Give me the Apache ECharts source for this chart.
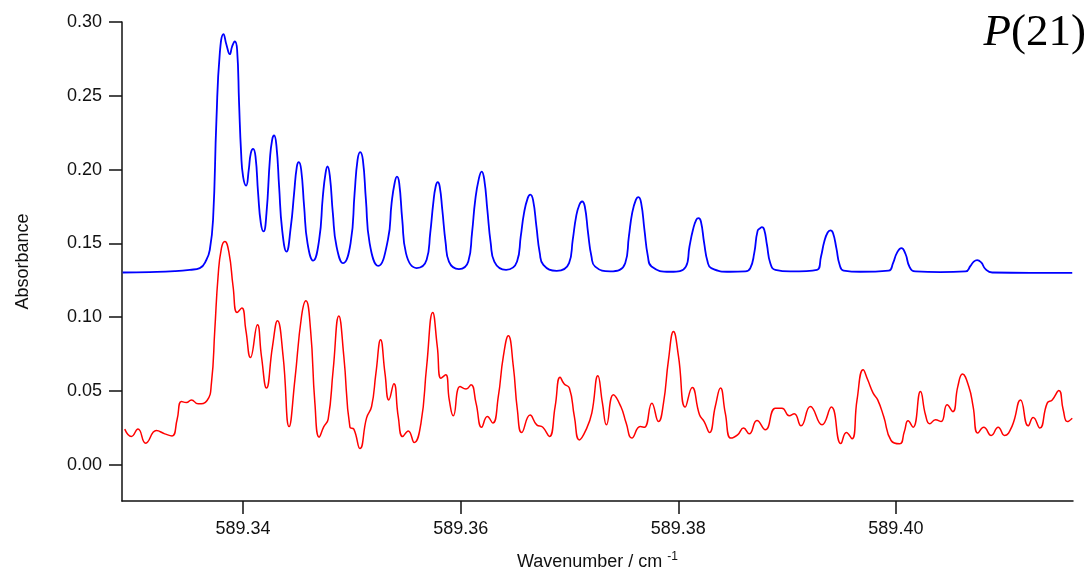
<!DOCTYPE html>
<html><head><meta charset="utf-8">
<script src="https://cdn.jsdelivr.net/npm/echarts@6/dist/echarts.min.js"></script>
<style>html,body{margin:0;padding:0;background:#fff}#c{width:1089px;height:570px}</style>
</head><body><div id="c"></div>
<script>
const xTicks = [589.34, 589.36, 589.38, 589.40];
const yTicks = [0, 0.05, 0.10, 0.15, 0.20, 0.25, 0.30];
const xTitle = 'Wavenumber / cm {sup|-1}';
const yTitle = 'Absorbance';
const label = 'P(21)';

const blueX = [
589.32893, 589.33142, 589.33372, 589.33510, 589.33602, 589.33663, 589.33694, 589.33724, 589.33755, 589.33786,
589.33820, 589.33847, 589.33878, 589.33899, 589.33924, 589.33945, 589.33963, 589.33982, 589.34000, 589.34028,
589.34052, 589.34071, 589.34092, 589.34114, 589.34138, 589.34163, 589.34188, 589.34215, 589.34246, 589.34267,
589.34285, 589.34307, 589.34331, 589.34359, 589.34399, 589.34439, 589.34469, 589.34494, 589.34512, 589.34534,
589.34561, 589.34592, 589.34644, 589.34699, 589.34733, 589.34758, 589.34776, 589.34798, 589.34825, 589.34859,
589.34920, 589.34988, 589.35025, 589.35052, 589.35076, 589.35101, 589.35129, 589.35163, 589.35242, 589.35331,
589.35365, 589.35393, 589.35414, 589.35435, 589.35463, 589.35497, 589.35595, 589.35687, 589.35720, 589.35748,
589.35770, 589.35789, 589.35807, 589.35831, 589.35862, 589.35892, 589.35984, 589.36070, 589.36104, 589.36134,
589.36168, 589.36193, 589.36217, 589.36245, 589.36276, 589.36309, 589.36417, 589.36518, 589.36552, 589.36582,
589.36616, 589.36640, 589.36665, 589.36696, 589.36727, 589.36760, 589.36883, 589.36996, 589.37030, 589.37061,
589.37091, 589.37116, 589.37141, 589.37171, 589.37202, 589.37236, 589.37374, 589.37512, 589.37546, 589.37576,
589.37610, 589.37634, 589.37659, 589.37689, 589.37721, 589.37754, 589.37926, 589.38070, 589.38103, 589.38135,
589.38165, 589.38186, 589.38208, 589.38238, 589.38269, 589.38303, 589.38478, 589.38616, 589.38662, 589.38698,
589.38729, 589.38754, 589.38769, 589.38790, 589.38815, 589.38846, 589.38892, 589.39030, 589.39275, 589.39312,
589.39342, 589.39373, 589.39398, 589.39422, 589.39453, 589.39483, 589.39520, 589.39674, 589.39934, 589.39974,
589.40011, 589.40051, 589.40088, 589.40127, 589.40180, 589.40410, 589.40640, 589.40686, 589.40716, 589.40747,
589.40784, 589.40824, 589.40885, 589.41238, 589.41621
];
const blueY = [
0.1303, 0.1306, 0.1312, 0.1321, 0.1333, 0.1389, 0.1457, 0.1660, 0.2337, 0.2789,
0.2918, 0.2846, 0.2782, 0.2834, 0.2868, 0.2812, 0.2451, 0.2112, 0.1953, 0.1892,
0.1999, 0.2112, 0.2141, 0.2089, 0.1841, 0.1638, 0.1581, 0.1705, 0.2066, 0.2202,
0.2231, 0.2157, 0.1886, 0.1592, 0.1445, 0.1615, 0.1841, 0.2021, 0.2051, 0.1999,
0.1750, 0.1502, 0.1384, 0.1524, 0.1818, 0.1976, 0.2021, 0.1953, 0.1705, 0.1479,
0.1366, 0.1502, 0.1841, 0.2066, 0.2119, 0.2066, 0.1795, 0.1502, 0.1348, 0.1524,
0.1773, 0.1909, 0.1953, 0.1909, 0.1660, 0.1434, 0.1333, 0.1389, 0.1570, 0.1773,
0.1886, 0.1915, 0.1886, 0.1728, 0.1502, 0.1377, 0.1326, 0.1377, 0.1570, 0.1795,
0.1942, 0.1987, 0.1931, 0.1728, 0.1502, 0.1377, 0.1321, 0.1377, 0.1547, 0.1705,
0.1807, 0.1831, 0.1795, 0.1615, 0.1434, 0.1355, 0.1314, 0.1366, 0.1524, 0.1682,
0.1762, 0.1784, 0.1750, 0.1570, 0.1411, 0.1343, 0.1310, 0.1366, 0.1547, 0.1705,
0.1795, 0.1814, 0.1773, 0.1592, 0.1411, 0.1343, 0.1308, 0.1343, 0.1479, 0.1592,
0.1660, 0.1671, 0.1648, 0.1502, 0.1377, 0.1333, 0.1308, 0.1310, 0.1333, 0.1434,
0.1585, 0.1604, 0.1610, 0.1592, 0.1491, 0.1366, 0.1321, 0.1310, 0.1321, 0.1412,
0.1513, 0.1574, 0.1588, 0.1570, 0.1468, 0.1355, 0.1316, 0.1308, 0.1316, 0.1367,
0.1438, 0.1468, 0.1430, 0.1339, 0.1310, 0.1305, 0.1310, 0.1348, 0.1377, 0.1387,
0.1371, 0.1326, 0.1303, 0.1301, 0.1301
];

const redX = [
589.32912, 589.32973, 589.33034, 589.33105, 589.33203, 589.33280, 589.33347, 589.33393, 589.33433, 589.33479,
589.33525, 589.33586, 589.33669, 589.33709, 589.33740, 589.33770, 589.33801, 589.33832, 589.33871, 589.33908,
589.33945, 589.33988, 589.34025, 589.34068, 589.34132, 589.34169, 589.34215, 589.34270, 589.34316, 589.34368,
589.34423, 589.34476, 589.34537, 589.34577, 589.34620, 589.34660, 589.34699, 589.34742, 589.34782, 589.34828,
589.34880, 589.34926, 589.34982, 589.35018, 589.35074, 589.35135, 589.35181, 589.35221, 589.35264, 589.35304,
589.35340, 589.35386, 589.35426, 589.35467, 589.35518, 589.35573, 589.35635, 589.35687, 589.35743, 589.35785,
589.35819, 589.35862, 589.35895, 589.35932, 589.35994, 589.36049, 589.36095, 589.36141, 589.36193, 589.36245,
589.36295, 589.36346, 589.36392, 589.36438, 589.36484, 589.36521, 589.36561, 589.36638, 589.36699, 589.36755,
589.36815, 589.36868, 589.36914, 589.36950, 589.36999, 589.37045, 589.37091, 589.37159, 589.37205, 589.37261,
589.37303, 589.37340, 589.37404, 589.37472, 589.37521, 589.37573, 589.37650, 589.37689, 589.37757, 589.37818,
589.37864, 589.37910, 589.37956, 589.38002, 589.38064, 589.38128, 589.38195, 589.38238, 589.38287, 589.38340,
589.38388, 589.38432, 589.38484, 589.38545, 589.38600, 589.38652, 589.38723, 589.38800, 589.38892, 589.38953,
589.39020, 589.39066, 589.39128, 589.39214, 589.39321, 589.39407, 589.39494, 589.39545, 589.39597, 589.39643,
589.39699, 589.39741, 589.39791, 589.39833, 589.39888, 589.39956, 589.40035, 589.40078, 589.40112, 589.40158,
589.40226, 589.40272, 589.40311, 589.40364, 589.40416, 589.40471, 589.40523, 589.40569, 589.40612, 589.40670,
589.40710, 589.40753, 589.40808, 589.40876, 589.40940, 589.40998, 589.41069, 589.41146, 589.41216, 589.41262,
589.41323, 589.41391, 589.41437, 589.41498, 589.41538, 589.41575, 589.41621
];
const redY = [
0.0242, 0.0192, 0.0242, 0.0147, 0.0232, 0.0210, 0.0196, 0.0305, 0.0429, 0.0422,
0.0440, 0.0413, 0.0436, 0.0554, 0.0915, 0.1276, 0.1468, 0.1513, 0.1434, 0.1208,
0.1032, 0.1062, 0.0915, 0.0727, 0.0949, 0.0734, 0.0520, 0.0801, 0.0976, 0.0734,
0.0259, 0.0576, 0.1005, 0.1111, 0.0915, 0.0418, 0.0188, 0.0259, 0.0310, 0.0644,
0.1009, 0.0734, 0.0255, 0.0242, 0.0110, 0.0318, 0.0395, 0.0621, 0.0847, 0.0621,
0.0440, 0.0549, 0.0327, 0.0192, 0.0230, 0.0151, 0.0283, 0.0666, 0.1032, 0.0801,
0.0587, 0.0610, 0.0440, 0.0332, 0.0530, 0.0513, 0.0542, 0.0418, 0.0255, 0.0327,
0.0283, 0.0463, 0.0734, 0.0874, 0.0666, 0.0373, 0.0219, 0.0337, 0.0271, 0.0255,
0.0192, 0.0395, 0.0594, 0.0549, 0.0520, 0.0327, 0.0169, 0.0249, 0.0350, 0.0603,
0.0418, 0.0271, 0.0474, 0.0395, 0.0283, 0.0181, 0.0259, 0.0255, 0.0418, 0.0293,
0.0418, 0.0711, 0.0903, 0.0734, 0.0391, 0.0524, 0.0339, 0.0293, 0.0219, 0.0395,
0.0520, 0.0350, 0.0181, 0.0203, 0.0249, 0.0210, 0.0300, 0.0237, 0.0384, 0.0384,
0.0332, 0.0346, 0.0264, 0.0395, 0.0271, 0.0391, 0.0144, 0.0219, 0.0176, 0.0440,
0.0644, 0.0576, 0.0486, 0.0440, 0.0327, 0.0165, 0.0142, 0.0226, 0.0298, 0.0255,
0.0497, 0.0339, 0.0278, 0.0305, 0.0293, 0.0407, 0.0361, 0.0530, 0.0615, 0.0530,
0.0395, 0.0215, 0.0255, 0.0199, 0.0255, 0.0199, 0.0264, 0.0440, 0.0264, 0.0320,
0.0249, 0.0418, 0.0440, 0.0503, 0.0373, 0.0293, 0.0316
];

const zip = (xs, ys) => xs.map((x, i) => [x, ys[i]]);
const axisColor = '#111';
const font = "'Liberation Sans', Arial, Helvetica, sans-serif";
const serif = "'Liberation Serif', 'Times New Roman', serif";

const chart = echarts.init(document.getElementById('c'), null, { renderer: 'canvas' });
chart.setOption({
  animation: false,
  backgroundColor: '#fff',
  grid: { left: 122, right: 16, top: 22, bottom: 69, containLabel: false, outerBoundsMode: 'none' },
  xAxis: {
    type: 'value', min: 589.32887, max: 589.41628,
    axisLine: { onZero: false, lineStyle: { color: axisColor, width: 1.5 } },
    axisTick: { show: true, length: 13, customValues: xTicks, lineStyle: { color: axisColor, width: 1.5 } },
    axisLabel: { customValues: xTicks, formatter: v => v.toFixed(2), fontSize: 18, color: axisColor, margin: 19, fontFamily: font },
    splitLine: { show: false },
    name: xTitle, nameLocation: 'middle', nameGap: 50,
    nameTextStyle: { fontSize: 18, color: axisColor, fontFamily: font, lineHeight: 22,
      rich: { sup: { fontSize: 12, fontFamily: font, color: axisColor, verticalAlign: 'top', lineHeight: 22 } } }
  },
  yAxis: {
    type: 'value', min: -0.0245, max: 0.30,
    axisLine: { onZero: false, lineStyle: { color: axisColor, width: 1.5 } },
    axisTick: { show: true, length: 13, customValues: yTicks, lineStyle: { color: axisColor, width: 1.5 } },
    axisLabel: { customValues: yTicks, formatter: v => v.toFixed(2), fontSize: 18, color: axisColor, margin: 20, fontFamily: font },
    splitLine: { show: false },
    name: yTitle, nameLocation: 'middle', nameGap: 90,
    nameTextStyle: { fontSize: 18, color: axisColor, fontFamily: font }
  },
  graphic: [{
    type: 'text', right: 3, top: 11,
    style: {
      text: '{i|P}{n|(21)}',
      rich: {
        i: { fontStyle: 'italic', fontFamily: serif, fontSize: 45, fill: '#000' },
        n: { fontFamily: serif, fontSize: 45, fill: '#000' }
      }
    }
  }],
  series: [
    { type: 'line', data: zip(blueX, blueY), showSymbol: false, smooth: 0.5,
      lineStyle: { color: '#0000ff', width: 1.8 }, itemStyle: { color: '#0000ff' }, clip: true },
    { type: 'line', data: zip(redX, redY), showSymbol: false, smooth: 0.5,
      lineStyle: { color: '#ff0000', width: 1.5 }, itemStyle: { color: '#ff0000' }, clip: true }
  ]
});
</script>
</body></html>
